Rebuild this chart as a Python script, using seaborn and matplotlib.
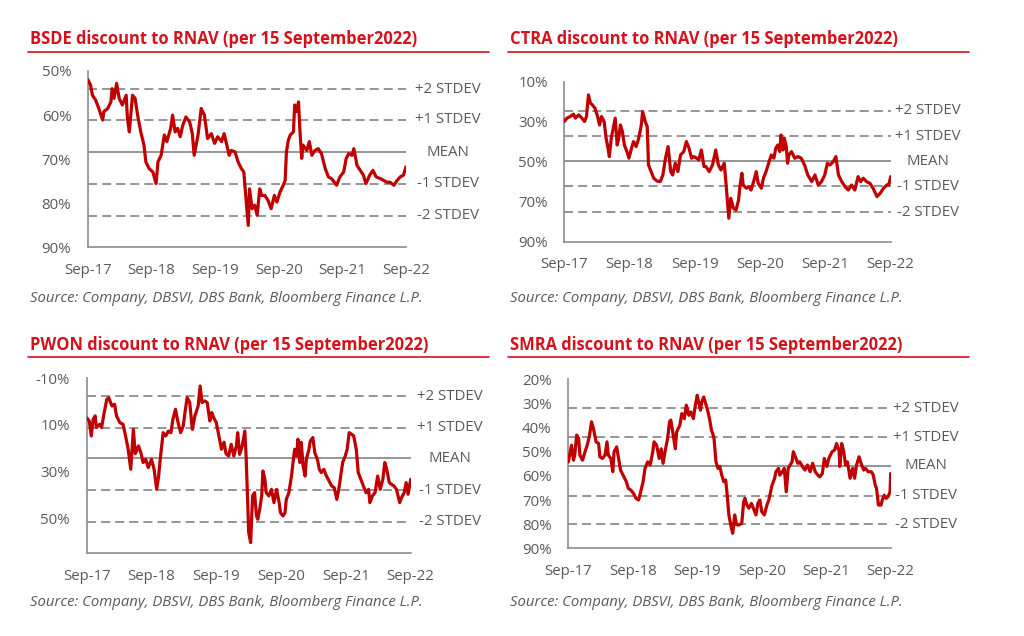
import numpy as np
import pandas as pd
import matplotlib
matplotlib.use("Agg")
import matplotlib.pyplot as plt
import matplotlib.dates as mdates
import seaborn as sns
from matplotlib.lines import Line2D
from matplotlib.ticker import FuncFormatter
from matplotlib.transforms import blended_transform_factory

# time axis: years since 15 Sep 2017, values: discount to RNAV (%)
bsde_t = [0, .04, .07, .12, .17, .23, .25, .31, .36, .38, .41, .45, .49, .54, .6, .62, .65, .7, .74, .78,
          .83, .88, .91, .96, 1.02, 1.07, 1.1, 1.15, 1.2, 1.24, 1.3, 1.33, 1.37, 1.41, 1.45, 1.49, 1.54, 1.6, 1.64, 1.67,
          1.73, 1.78, 1.83, 1.88, 1.94, 1.99, 2.04, 2.1, 2.14, 2.17, 2.22, 2.25, 2.31, 2.36, 2.41, 2.45,
          2.48, 2.52, 2.54, 2.58, 2.62, 2.66, 2.7, 2.73, 2.78, 2.83, 2.88, 2.93, 2.97, 3.02, 3.07, 3.1, 3.12, 3.15,
          3.18, 3.23, 3.25, 3.28, 3.31, 3.33, 3.36, 3.38, 3.44, 3.48, 3.52, 3.57, 3.62, 3.67, 3.73, 3.78, 3.83, 3.91,
          3.96, 4.02, 4.06, 4.1, 4.15, 4.18, 4.23, 4.28, 4.33, 4.37, 4.43, 4.48, 4.53, 4.6, 4.65, 4.7, 4.75, 4.81,
          4.86, 4.91, 4.96, 5.0]
bsde_v = [52, 53.2, 55.5, 56.6, 58.5, 61.1, 59.2, 58.5, 57.0, 54.0, 56.2, 52.8, 56.2, 57.7, 55.5, 60.8, 63.8, 55.5, 56.2, 60.0,
          63.8, 66.8, 70.6, 72.1, 72.9, 75.5, 70.6, 69.1, 64.5, 66.0, 63.0, 60.0, 63.8, 63.0, 64.9, 62.3, 60.4, 61.6, 64.2, 69.1,
          64.5, 58.5, 60.0, 65.3, 64.2, 66.4, 64.9, 66.0, 64.2, 66.0, 69.1, 68.0, 68.3, 70.6, 72.1, 72.9,
          78.2, 85.0, 76.7, 81.2, 80.4, 82.7, 76.7, 78.2, 78.2, 79.3, 81.2, 78.2, 79.7, 77.4, 75.9, 74.8, 68.3, 65.7,
          64.5, 63.8, 57.7, 59.2, 57.0, 63.0, 69.8, 66.8, 68.0, 66.0, 69.1, 68.0, 67.6, 68.7, 72.1, 74.0, 74.4, 75.9,
          74.0, 72.9, 69.8, 68.7, 69.1, 67.6, 71.4, 72.5, 73.6, 75.5, 73.6, 72.5, 74.0, 74.4, 74.8, 75.2, 75.2, 75.9,
          74.8, 74.0, 73.6, 71.7]

ctra_t = [0, .04, .09, .14, .17, .22, .27, .31, .34, .37, .4, .43, .47, .51, .54, .57, .61, .64, .67, .69,
          .72, .75, .78, .81, .83, .86, .89, .92, .96, .99, 1.03, 1.06, 1.1, 1.14, 1.18, 1.2, 1.24, 1.27, 1.29, 1.32,
          1.37, 1.42, 1.47, 1.51, 1.55, 1.59, 1.63, 1.66, 1.7, 1.74, 1.78, 1.83, 1.87, 1.91, 1.95, 1.98, 2.03, 2.06,
          2.1, 2.14, 2.17, 2.22, 2.27, 2.32, 2.36, 2.4, 2.45, 2.48,
          2.52, 2.55, 2.59, 2.63, 2.67, 2.69, 2.72, 2.74, 2.79, 2.83, 2.86, 2.9, 2.94, 2.97, 3.02, 3.05, 3.09, 3.13,
          3.17, 3.21, 3.24, 3.27, 3.3, 3.32, 3.35, 3.37, 3.4, 3.42, 3.44, 3.48, 3.53, 3.58, 3.63, 3.68, 3.73, 3.79,
          3.84, 3.89, 3.94, 3.99, 4.03, 4.07, 4.12, 4.16, 4.2, 4.25, 4.3, 4.35, 4.4, 4.45, 4.5, 4.54, 4.58, 4.63,
          4.68, 4.73, 4.79, 4.84, 4.89, 4.94, 4.97, 5.0]
ctra_v = [30, 28.3, 27.5, 26.3, 28.3, 26.7, 28.3, 30, 27.5, 16.7, 20.8, 21.7, 23.3, 27.5, 31.7, 27.5, 30, 38.3, 43.3, 47.5,
          38.3, 33.3, 28.3, 41.7, 39.2, 31.7, 35, 41.7, 45, 48.3, 43.3, 40, 42.5, 38.3, 31.7, 25, 30, 32.5, 51.7, 54.2,
          58.3, 59.7, 60, 56.7, 48.3, 42.5, 55, 56.7, 50.8, 55, 46.7, 45, 40, 43.3, 48.3, 47.5, 48.3, 49.2,
          44.2, 52.5, 52.5, 55, 51.7, 44.2, 51.7, 54.2, 50.8, 62,
          78.3, 68.3, 73.3, 74.2, 69.2, 62.5, 55.8, 61.7, 63.3, 62.5, 64.2, 60, 55, 60.8, 63.3, 58.3, 55, 50.8,
          46.7, 48.3, 43.3, 41.7, 45, 36.7, 44.2, 38.3, 42.5, 50.8, 46.7, 45, 48.3, 47.5, 48.3, 51.7, 56.7, 60,
          56.7, 61.7, 60, 56.7, 50.8, 51.7, 50, 47.5, 56.7, 60, 62.5, 64.2, 61.7, 64.2, 57.5, 60, 58.3, 60,
          60.8, 63.3, 67.5, 65.8, 63.3, 61.7, 61.7, 57.5]

pwon_t = [0, .04, .07, .1, .13, .15, .2, .23, .27, .31, .34, .39, .43, .46, .51, .56, .6, .64, .68, .72,
          .75, .8, .84, .87, .91, .95, 1.0, 1.04, 1.08, 1.11, 1.14, 1.18, 1.22, 1.26, 1.3, 1.33, 1.37, 1.41, 1.45, 1.49,
          1.52, 1.55, 1.59, 1.63, 1.67, 1.72, 1.75, 1.78, 1.82, 1.86, 1.9, 1.93, 1.96, 2.0, 2.04, 2.08, 2.12, 2.15,
          2.19, 2.23, 2.27, 2.31, 2.33, 2.36, 2.4, 2.44, 2.46,
          2.5, 2.53, 2.56, 2.59, 2.62, 2.64, 2.67, 2.7, 2.72, 2.75, 2.77, 2.81, 2.85, 2.89, 2.93, 2.97, 2.99, 3.03,
          3.06, 3.08, 3.12, 3.16, 3.19, 3.21, 3.24, 3.26, 3.29, 3.31, 3.34, 3.37, 3.39, 3.43, 3.45, 3.49, 3.52, 3.56,
          3.59, 3.62, 3.66, 3.7, 3.74, 3.78, 3.82, 3.86, 3.89, 3.92, 3.95, 3.99, 4.02, 4.05, 4.09, 4.12, 4.16, 4.19,
          4.23, 4.27, 4.31, 4.35, 4.37, 4.41, 4.45, 4.49, 4.53, 4.57, 4.6, 4.63, 4.67, 4.71, 4.74, 4.78, 4.83, 4.86,
          4.9, 4.93, 4.96, 5.0]
pwon_v = [6.9, 8.3, 14.7, 7.6, 6.1, 11.1, 9.7, 11.1, 4.7, -1, -1.7, 1.9, 1.1, 6.1, 9, 9.7, 14.7, 20.4, 29, 11.9,
          22.3, 19, 22.3, 26.1, 24.7, 28.3, 24.7, 29, 37.6, 31.9, 23.3, 13.3, 14.7, 12.6, 13.3, 7.6, 3.3, 9, 13.3, 10.4,
          4, -1.7, 0.4, 11.9, 6.1, 1.9, -6.7, 0.4, -0.3, 0.4, 8.3, 4.7, 6.9, 9, 14.7, 20.4, 17.4, 22.3,
          23.3, 18.3, 23.3, 19, 13.3, 22.6, 19, 12.6, 23.3,
          56.1, 60.4, 40.4, 39, 49, 50.4, 46.1, 40.4, 29.7, 33.3, 39, 40.4, 37.6, 43.3, 37.6, 43.3, 47.6, 49,
          47.6, 41.9, 39, 31.9, 24.7, 20.4, 23.3, 16.1, 26.1, 17.4, 27.6, 31.9, 24.7, 20.4, 16.9, 15.4, 21.9, 24.7,
          29, 30.4, 29, 31.9, 34, 36.1, 36.9, 41.9, 37.6, 31.9, 26.1, 23.3, 20.4, 13.3, 14, 14.7, 20.4, 30.4,
          33.3, 36.1, 39, 37.6, 43.3, 40.4, 39, 31.9, 37.6, 33.3, 26.1, 29, 34.7, 35.6, 36.1, 37.6, 43.3, 41.1,
          39, 34.7, 39.7, 33.3]

smra_t = [0, .03, .05, .08, .1, .13, .16, .18, .22, .26, .3, .33, .36, .39, .43, .47, .49, .53, .57, .6,
          .62, .66, .69, .71, .75, .78, .81, .85, .9, .93, .97, 1.01, 1.05, 1.09, 1.11, 1.16, 1.19, 1.23, 1.27, 1.31,
          1.33, 1.37, 1.41, 1.44, 1.47, 1.5, 1.54, 1.57, 1.59, 1.62, 1.66, 1.68, 1.73, 1.76, 1.8, 1.83, 1.87, 1.9,
          1.94, 1.97, 2.0, 2.02, 2.05, 2.07, 2.1, 2.13, 2.16, 2.19, 2.22, 2.24, 2.26, 2.29, 2.32, 2.35, 2.38, 2.41,
          2.44, 2.46,
          2.49, 2.53, 2.55, 2.58, 2.61, 2.65, 2.69, 2.72, 2.74, 2.77, 2.8, 2.84, 2.87, 2.91, 2.94, 2.97, 3.0, 3.04,
          3.08, 3.11, 3.16, 3.2, 3.22, 3.26, 3.28, 3.32, 3.35, 3.38, 3.41, 3.44, 3.47, 3.49, 3.52, 3.56, 3.59, 3.63,
          3.67, 3.71, 3.75, 3.79, 3.83, 3.87, 3.9, 3.94, 3.97, 4.01, 4.04, 4.09, 4.13, 4.16, 4.2, 4.21, 4.24, 4.27,
          4.3, 4.33, 4.37, 4.41, 4.44, 4.47, 4.51, 4.54, 4.58, 4.61, 4.65, 4.7, 4.73, 4.76, 4.78, 4.81, 4.85, 4.87,
          4.9, 4.93, 4.96, 4.99, 5.0]
smra_v = [54.2, 50, 47.3, 53.5, 51.4, 43.1, 44.5, 51.4, 53.5, 50, 46.6, 43.1, 37.6, 40.4, 45.9, 46.6, 52.1, 52.8, 51.4, 45.9,
          51.4, 52.8, 58.3, 50, 48, 52.8, 57.6, 59.7, 62.4, 65.2, 65.9, 67.2, 69.3, 70, 68, 62.4, 56.9, 54.2, 55.5, 50,
          45.9, 47.3, 52.8, 48.8, 54.8, 50, 44.5, 37.6, 36.9, 41.8, 48.8, 41.8, 39, 34.2, 36.3, 30.7, 34.9, 33.5,
          36.3, 30.7, 26.6, 29.4, 32.8, 29.4, 27.3, 30.1, 32.8, 36.3, 41.1, 42.5, 44.5, 54.2, 56.9, 56.1, 59.7, 62.4,
          61.7, 66.6,
          76.2, 81.7, 83.8, 76.2, 80.3, 80.3, 79.6, 70.7, 69.3, 72.1, 73.4, 71.4, 73.4, 76.2, 71.4, 70, 74.8, 76.2,
          72.1, 70, 63.8, 61, 58.3, 56.9, 59.7, 58.3, 56.9, 66.6, 56.9, 55.5, 54.2, 50, 52.1, 54.8, 54.2, 56.1,
          57.6, 55.5, 58.3, 54.8, 58.3, 59.7, 60.4, 59, 52.8, 56.1, 52.8, 50, 49.3, 46.6, 49.7, 56.1, 46.6, 49.7,
          55.5, 54.2, 61, 56.9, 61, 55.5, 52.1, 54.8, 57.6, 56.9, 58.3, 58.3, 59.7, 63.8, 65.2, 72.1, 72.1, 70,
          68, 69.3, 68.6, 66.6, 59]

# +2 / +1 / mean / -1 / -2 stdev levels
band_labels = ["+2 STDEV", "+1 STDEV", "MEAN", "-1 STDEV", "-2 STDEV"]
bsde_bands = [54.1, 61.1, 68.4, 75.6, 82.8]
ctra_bands = [24.7, 37.3, 49.8, 62.4, 75.2]
pwon_bands = [-2.4, 11.1, 24.3, 38.0, 51.4]
smra_bands = [32.0, 44.0, 55.9, 68.2, 80.1]

RED_LINE = "#C00000"
RED_TITLE = "#D3121C"
GREY = "#8C8C8C"
TEXT = "#595959"
W, H = 1024, 636
START = pd.Timestamp("2017-09-15")
SOURCE = "Source: Company, DBSVI, DBS Bank, Bloomberg Finance L.P."

sns.set_style("white")
plt.rcParams["font.family"] = ["Open Sans", "DejaVu Sans"]

fig = plt.figure(figsize=(W / 100, H / 100), dpi=100)


def draw_panel(name, t, v, bands, ylim, yticks, box, label_x, left, top):
    l, tp, r, b = box
    ax = fig.add_axes([l / W, 1 - b / H, (r - l) / W, (b - tp) / H])
    dates = START + pd.to_timedelta(np.array(t) * 365.25, unit="D")
    for lvl, lab in zip(bands, band_labels):
        ls = "-" if lab == "MEAN" else (0, (5, 2.8))
        ax.axhline(lvl, color=GREY, lw=1.3, ls=ls, zorder=1)
        ax.text(label_x / W, lvl, lab, transform=blended_transform_factory(fig.transFigure, ax.transData),
                ha="center", va="center", fontsize=10.8, color=TEXT)
    sns.lineplot(x=dates, y=v, ax=ax, color=RED_LINE, linewidth=2.3, zorder=3)

    ax.set_ylim(*ylim)
    ax.set_yticks(yticks)
    ax.yaxis.set_major_formatter(FuncFormatter(lambda y, _: f"{y:.0f}%"))
    ax.set_xlim(START, START + pd.Timedelta(days=5 * 365.25))
    ax.xaxis.set_major_locator(mdates.YearLocator(month=9, day=15))
    ax.xaxis.set_major_formatter(mdates.DateFormatter("%b-%y"))
    ax.set_xlabel("")
    ax.set_ylabel("")
    for s in ["top", "right"]:
        ax.spines[s].set_visible(False)
    for s in ["left", "bottom"]:
        ax.spines[s].set_color(GREY)
        ax.spines[s].set_linewidth(1.2)
    ax.tick_params(axis="both", direction="out", length=4, width=1, color=GREY,
                   labelsize=10.8, labelcolor=TEXT)
    ax.tick_params(axis="y", pad=8)
    ax.tick_params(axis="x", pad=7)

    fig.text(left / W, 1 - top / H, f"{name} discount to RNAV (per 15 September2022)",
             ha="left", va="center", fontsize=11.9, fontweight="bold", color=RED_TITLE)
    rule_y = 1 - (top + 12.3) / H
    fig.add_artist(Line2D([(left - 2) / W, (left + 459) / W], [rule_y, rule_y], color=RED_TITLE, lw=1.2))
    fig.text(left / W, 1 - (top + 258.5) / H, SOURCE, ha="left", va="center",
             fontsize=10.7, fontstyle="italic", color=TEXT)
    return ax


draw_panel("BSDE", bsde_t, bsde_v, bsde_bands, (90, 50), [50, 60, 70, 80, 90],
           (88, 71, 406, 247.5), 448, 30, 39.5)
draw_panel("CTRA", ctra_t, ctra_v, ctra_bands, (90, 10), [10, 30, 50, 70, 90],
           (564.3, 81.5, 890.7, 241.7), 928, 510, 39.5)
draw_panel("PWON", pwon_t, pwon_v, pwon_bands, (65, -10), [-10, 10, 30, 50],
           (86.7, 378.3, 410.7, 553.3), 450, 30, 344.5)
draw_panel("SMRA", smra_t, smra_v, smra_bands, (90, 20), [20, 30, 40, 50, 60, 70, 80, 90],
           (568.3, 379.3, 890.7, 548.3), 926, 510, 344.5)

fig.savefig("out.png", dpi=100)
